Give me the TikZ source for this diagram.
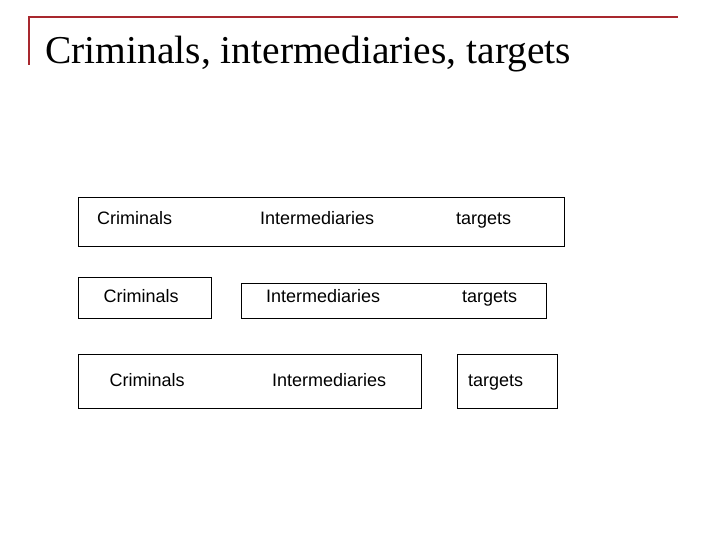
\documentclass[tikz,border=0pt]{standalone}
\usepackage{fontspec}
\setmainfont{Liberation Serif}
\newfontfamily\itemfont{Liberation Sans}
\usetikzlibrary{positioning}
\definecolor{rulered}{RGB}{168,40,46}

\begin{document}
\begin{tikzpicture}[x=1pt,y=-1pt,
    itemtext/.style={anchor=base west, inner sep=0pt, font=\itemfont\fontsize{18}{18}\selectfont},
    boxline/.style={draw, line width=1pt}]
            \useasboundingbox (0,0) rectangle (720,540);

            % title
            \draw[rulered, line width=2pt] (29,65) -- (29,17) -- (678,17);
            \node (title) [anchor=base west, inner sep=0pt, font=\fontsize{39.5}{40}\selectfont] at (45,64) {Criminals, intermediaries, targets};

            % first row
            \draw[boxline] (78,198) rectangle (564,246);
            \node (c1) [itemtext] at (97,225) {Criminals};
            \node (i1) [itemtext] at (260,225) {Intermediaries};
            \node (t1) [itemtext] at (456,225) {targets};

            % second row
            \draw[boxline] (78,277) rectangle (211,318);
            \draw[boxline] (241,283) rectangle (546,318);
            \node (c2) [itemtext] at (103.5,302.5) {Criminals};
            \node (i2) [itemtext] at (266,302.5) {Intermediaries};
            \node (t2) [itemtext] at (462,302.5) {targets};

            % third row
            \draw[boxline] (78,354) rectangle (421,408);
            \draw[boxline] (457,354) rectangle (557,408);
            \node (c3) [itemtext] at (109.5,386.5) {Criminals};
            \node (i3) [itemtext] at (272,386.5) {Intermediaries};
            \node (t3) [itemtext] at (468,386.5) {targets};
        \end{tikzpicture}
\end{document}
